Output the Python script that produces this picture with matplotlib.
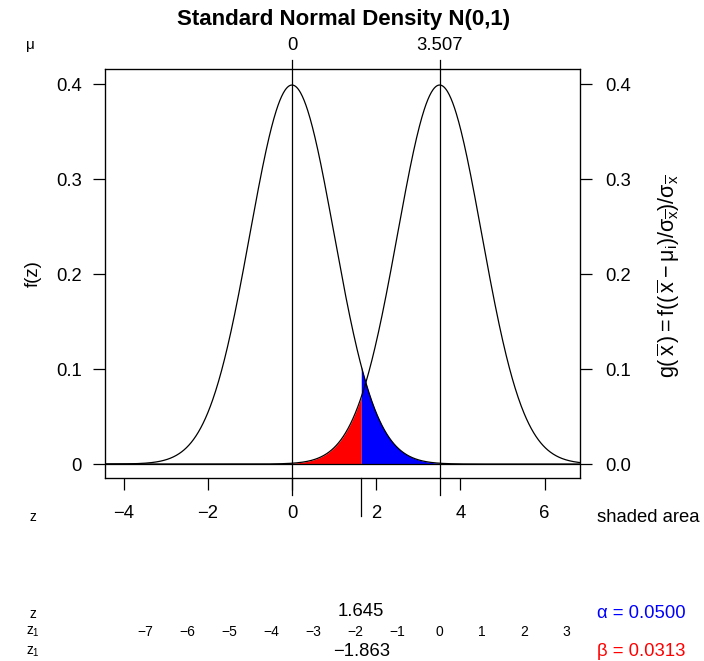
import numpy as np
import matplotlib
matplotlib.use("Agg")
import matplotlib.pyplot as plt
from matplotlib.transforms import blended_transform_factory

plt.rcParams['font.family'] = ['Liberation Sans', 'DejaVu Sans']
plt.rcParams['mathtext.fontset'] = 'custom'
plt.rcParams['mathtext.rm'] = 'Liberation Sans'
plt.rcParams['mathtext.it'] = 'Liberation Sans'
plt.rcParams['mathtext.bf'] = 'Liberation Sans:bold'

# values
mu = [0.0, 3.507]
z_crit = 1.645
z1_crit = -1.863
alpha = 0.0500
beta = 0.0313
x_ticks = [-4, -2, 0, 2, 4, 6]
y_ticks = [0, 0.1, 0.2, 0.3, 0.4]
y_left_labels = ['0', '0.1', '0.2', '0.3', '0.4']
y_right_labels = ['0.0', '0.1', '0.2', '0.3', '0.4']
z1_ticks = [-7, -6, -5, -4, -3, -2, -1, 0, 1, 2, 3]

W, H = 704, 661
fig = plt.figure(figsize=(W / 100, H / 100), dpi=100)

def fx(px):
    return px / W

def fy(py):
    return 1 - py / H

ax = fig.add_axes([fx(105), fy(478), fx(580) - fx(105), fy(69) - fy(478)])
xlim = (-4.442, 6.841)
ylim = (-0.0147, 0.4158)
ax.set_xlim(*xlim)
ax.set_ylim(*ylim)

def dnorm(x, m):
    return np.exp(-0.5 * (x - m) ** 2) / np.sqrt(2 * np.pi)

x = np.linspace(xlim[0], xlim[1], 800)
# shaded areas
xr = x[x <= z_crit]
xr = np.append(xr, z_crit)
ax.fill_between(xr, 0, dnorm(xr, mu[1]), color='#FF0000', lw=0)
xb = np.insert(x[x >= z_crit], 0, z_crit)
ax.fill_between(xb, 0, dnorm(xb, mu[0]), color='#0000FF', lw=0)

for m in mu:
    ax.plot(x, dnorm(x, m), color='black', lw=0.9)
ax.axhline(0, color='black', lw=0.9)

trans_fig = blended_transform_factory(ax.transData, fig.transFigure)
# vertical lines at the means, extending beyond the box
for m in mu:
    ax.plot([m, m], [fy(495), fy(60)], transform=trans_fig, color='black',
            lw=0.9, clip_on=False)
# critical value tick below the box
ax.plot([z_crit, z_crit], [fy(516), fy(478)], transform=trans_fig,
        color='black', lw=0.9, clip_on=False)

tick_len = 12 * 72 / 100
ax.set_xticks(x_ticks)
ax.set_xticklabels([str(t).replace('-', '\u2212') for t in x_ticks])
ax.tick_params(axis='x', length=tick_len, width=0.9, pad=11, labelsize=13.3)
ax.set_yticks(y_ticks)
ax.set_yticklabels(y_left_labels)
ax.tick_params(axis='y', length=tick_len, width=0.9, pad=8, labelsize=13.3)
for s in ax.spines.values():
    s.set_linewidth(0.9)

ax2 = ax.twinx()
ax2.set_ylim(*ylim)
ax2.set_yticks(y_ticks)
ax2.set_yticklabels(y_right_labels)
ax2.tick_params(axis='y', length=tick_len, width=0.9, pad=9.5, labelsize=13.3)

# top mu labels
for m in mu:
    lab = '0' if m == 0 else '%.3f' % m
    ax.text(m, fy(45), lab, transform=trans_fig, ha='center', va='center',
            fontsize=13.3)

fig.text(fx(344), fy(20), 'Standard Normal Density N(0,1)', ha='center',
         va='center', fontsize=16, fontweight='bold')
fig.text(fx(30), fy(45), '\u03bc', ha='center', va='center', fontsize=11)
fig.text(fx(33), fy(274), 'f(z)', ha='center', va='center', fontsize=13.3,
         rotation=90)
fig.text(fx(669), fy(276),
         r'$\mathrm{g(\,\overline{x}\,) = f((\,\overline{x} - \mu_i)/\sigma_{\overline{x}})/\sigma_{\overline{x}}}$',
         ha='center', va='center', fontsize=15.5, rotation=90)

# bottom rows
fig.text(fx(33), fy(517), 'z', ha='center', va='center', fontsize=10)
fig.text(fx(597), fy(517), 'shaded area', ha='left', va='center', fontsize=13.3)
fig.text(fx(33), fy(614), 'z', ha='center', va='center', fontsize=10)
ax.text(z_crit, fy(611), '%.3f' % z_crit, transform=trans_fig, ha='center',
        va='center', fontsize=13.3)
fig.text(fx(597), fy(613), '\u03b1 = %.4f' % alpha, ha='left', va='center',
         fontsize=13.3, color='#0000FF')
fig.text(fx(33), fy(632), r'$z_1$', ha='center', va='center', fontsize=10)
for t in z1_ticks:
    ax.text(t + mu[1], fy(632), str(t).replace('-', '\u2212'), transform=trans_fig,
            ha='center', va='center', fontsize=10)
fig.text(fx(33), fy(652), r'$z_1$', ha='center', va='center', fontsize=10)
ax.text(z_crit, fy(652), ('%.3f' % z1_crit).replace('-', '\u2212'),
        transform=trans_fig, ha='center', va='center', fontsize=13.3)
fig.text(fx(597), fy(652), '\u03b2 = %.4f' % beta, ha='left', va='center',
         fontsize=13.3, color='#FF0000')

fig.savefig('out.png', dpi=100)
